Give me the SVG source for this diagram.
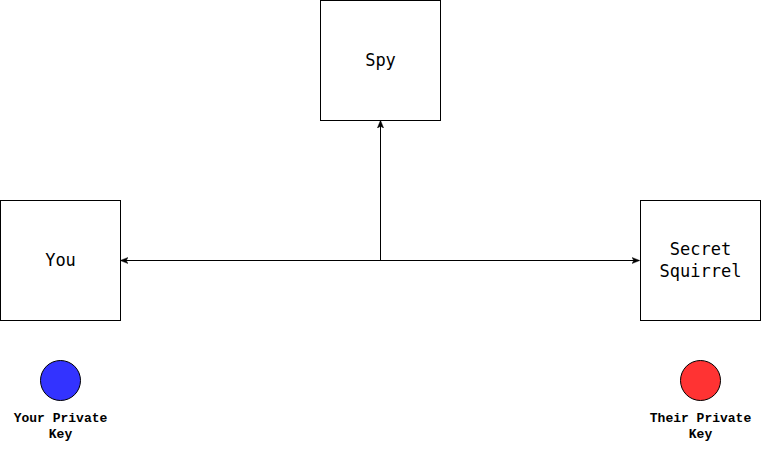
<svg xmlns="http://www.w3.org/2000/svg" width="761" height="451" viewBox="0 0 761 451">
<style>
.box{fill:#fff;stroke:#000;stroke-width:1}
.t{font-family:"DejaVu Sans Mono","Liberation Mono",monospace;font-size:17px;text-anchor:middle;fill:#000}
.k{font-family:"Liberation Mono","Courier New",monospace;font-size:13px;font-weight:bold;text-anchor:middle;fill:#000}
.e{stroke:#000;stroke-width:1;fill:none}
</style>
<defs>
<marker id="a" viewBox="0 0 10 10" refX="9" refY="5" markerWidth="8" markerHeight="8" markerUnits="userSpaceOnUse" orient="auto-start-reverse">
<path d="M0,1 L10,5 L0,9 L2.5,5 Z" fill="#000" stroke="#000" stroke-width="0.5"/>
</marker>
</defs>
<rect width="761" height="451" fill="#fff"/>
<g id="connectors">
<path class="e" d="M380.5,260.5 L380.5,121" marker-end="url(#a)"/>
<path class="e" d="M121,260.5 L639,260.5" marker-start="url(#a)" marker-end="url(#a)"/>
</g>
<g id="spy"><rect class="box" x="320.5" y="0.5" width="120" height="120"/><text class="t" x="380.5" y="66">Spy</text></g>
<g id="you"><rect class="box" x="0.5" y="200.5" width="120" height="120"/><text class="t" x="60.5" y="266">You</text></g>
<g id="squirrel"><rect class="box" x="640.5" y="200.5" width="120" height="120"/><text class="t" x="700.5" y="255">Secret</text><text class="t" x="700.5" y="277">Squirrel</text></g>
<g id="yourkey"><circle cx="60.5" cy="380.5" r="20" fill="#3333ff" stroke="#000"/><text class="k" x="60.5" y="421.5">Your Private</text><text class="k" x="60.5" y="437.5">Key</text></g>
<g id="theirkey"><circle cx="700.5" cy="380.5" r="20" fill="#ff3333" stroke="#000"/><text class="k" x="700.5" y="421.5">Their Private</text><text class="k" x="700.5" y="437.5">Key</text></g>
</svg>
